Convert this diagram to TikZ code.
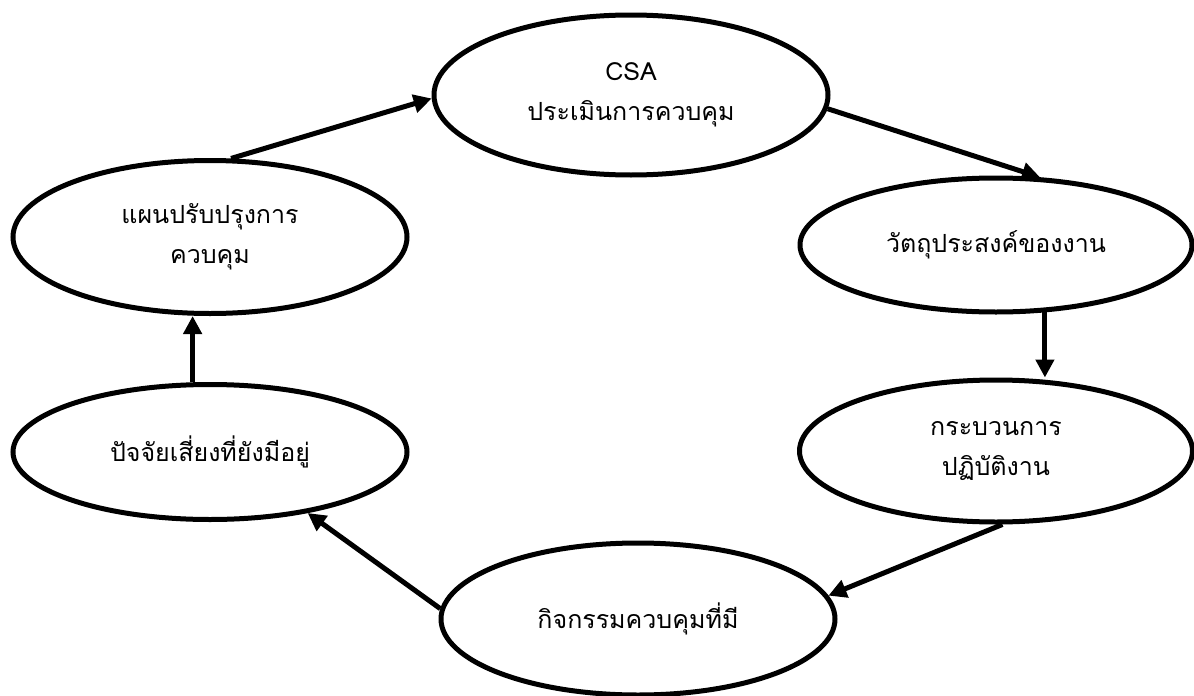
\documentclass[tikz,border=0pt]{standalone}
\usepackage{fontspec}
\setmainfont[Script=Thai]{Loma}
\usetikzlibrary{shapes.geometric,arrows.meta}
\begin{document}
\fontsize{12.5}{20}\selectfont
\begin{tikzpicture}[x=0.5pt,y=-0.5pt,
  oval/.style={draw,ellipse,line width=2.5pt,inner sep=0pt,align=center},
  flow/.style={line width=2.5pt,-{Triangle[length=9pt,width=9pt]}}]
\useasboundingbox (0,0) rectangle (1194,696);
\node[oval,minimum width=197pt,minimum height=80pt] (csa) at (631,95) {CSA\\ประเมินการควบคุม};
\node[oval,minimum width=196pt,minimum height=67pt] (obj) at (996,245) {วัตถุประสงค์ของงาน};
\node[oval,minimum width=196.5pt,minimum height=71pt] (proc) at (996,451) {กระบวนการ\\ปฏิบัติงาน};
\node[oval,minimum width=197pt,minimum height=76pt] (ctrl) at (638,619) {กิจกรรมควบคุมที่มี};
\node[oval,minimum width=197pt,minimum height=67.5pt] (risk) at (210,452) {ปัจจัยเสี่ยงที่ยังมีอยู่};
\node[oval,minimum width=197pt,minimum height=76.5pt] (plan) at (210,237) {แผนปรับปรุงการ\\ควบคุม};
\draw[flow] (plan.75) -- (csa.181);
\draw[flow] (csa.356) -- (obj.57);
\draw[flow] (obj.306) -- (obj.306 |- proc.north);
\draw[flow] (proc.275) -- (ctrl.7);
\draw[flow] (ctrl.177) -- (risk.328);
\draw[flow] (risk.104) -- (risk.104 |- plan.south);
\end{tikzpicture}
\end{document}
